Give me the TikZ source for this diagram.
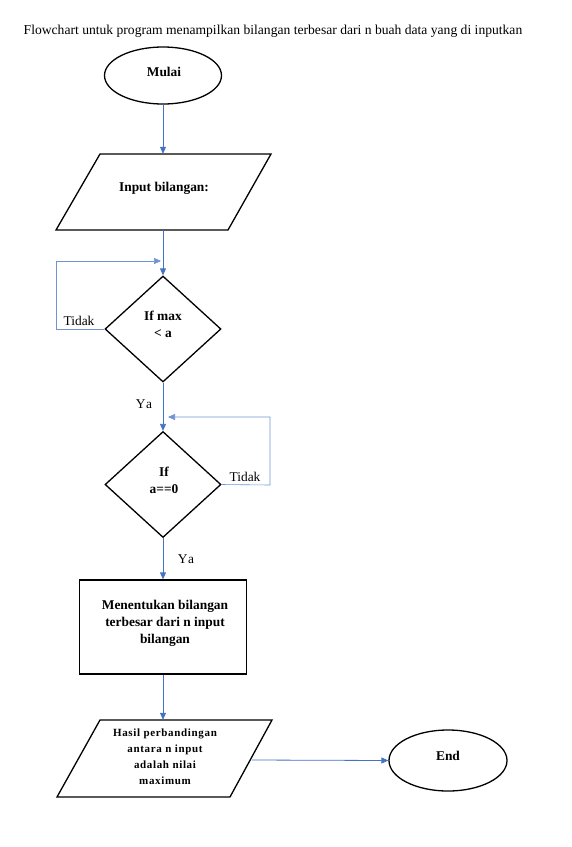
\documentclass[tikz,border=0pt]{standalone}
\usepackage{fontspec}
\setmainfont{Liberation Serif}
\usetikzlibrary{shapes.geometric,arrows.meta}
\definecolor{flowblue}{HTML}{4472C4}
\definecolor{loopblue}{HTML}{6F93D3}
\begin{document}
\begin{tikzpicture}[x=1pt,y=-1pt,
  shapeline/.style={draw=black,line width=1.3pt},
  term/.style={shapeline,ellipse,inner sep=0pt,minimum width=117pt,minimum height=57pt},
  iobox/.style={rectangle,inner sep=0pt,minimum width=172pt,minimum height=76pt},
  decide/.style={shapeline,diamond,inner sep=0pt,minimum width=116pt,minimum height=106pt},
  proc/.style={shapeline,rectangle,inner sep=0pt,minimum width=167pt,minimum height=94pt},
  txt/.style={align=center,font=\fontsize{13.4}{17}\selectfont\bfseries,inner sep=0pt},
  lbl/.style={font=\fontsize{13.4}{15}\selectfont,inner sep=0pt},
  flow/.style={draw=flowblue,line width=0.8pt,-{Triangle[width=6pt,length=7pt]}},
  loop/.style={draw=loopblue,line width=0.6pt,-{Triangle[width=6pt,length=7pt]}}
]
\useasboundingbox (0,0) rectangle (572,847);
\node[font=\fontsize{13.6}{15}\selectfont,inner sep=0pt] (title) at (273,31) {Flowchart untuk program menampilkan bilangan terbesar dari n buah data yang di inputkan};

\node[term] (start) at (163,75.5) {};
\node[txt] (tstart) at (164,72) {Mulai};

\node[iobox] (input) at (163,192) {};
\draw[shapeline,line join=miter] (100,154) -- (271,154) -- (228,230) -- (56,230) -- cycle;
\node[txt] (tinput) at (164,188) {Input bilangan:};

\node[decide] (d1) at (163,329) {};
\node[txt] (td1) at (163,324.5) {If max\\{<} a};

\node[decide] (d2) at (163,484.5) {};
\node[txt] (td2) at (164,480.5) {If\\a==0};

\node[proc] (proc) at (163,627) {};
\node[txt] (tproc) at (165,623) {Menentukan bilangan\\terbesar dari n input\\bilangan};

\node[iobox,minimum height=77pt] (out) at (163,758.5) {};
\draw[shapeline,line join=miter] (100,720) -- (272,720) -- (230,797) -- (57,797) -- cycle;
\node[txt,font=\fontsize{11}{16}\selectfont\bfseries\addfontfeatures{LetterSpace=6}] (tout) at (165,757) {Hasil perbandingan\\antara n input\\adalah nilai\\maximum};

\node[term,minimum width=118pt,minimum height=61pt] (end) at (448,760.5) {};
\node[txt] (tend) at (448,756) {End};

\coordinate (l1a) at (56,329);
\coordinate (l1b) at (56,261);
\coordinate (l1c) at (161,261);
\coordinate (l2a) at (270,485);
\coordinate (l2b) at (270,417);
\coordinate (l2c) at (168,417);
\coordinate (outr) at (252,760);

\draw[flow] (start.south) -- (input.north);
\draw[flow] (input.south) -- (d1.north);
\draw[loop] (d1.west) -- (l1a) -- (l1b) -- (l1c);
\draw[flow] (d1.south) -- (d2.north);
\draw[loop] (d2.east) -- (l2a) -- (l2b) -- (l2c);
\draw[flow] (d2.south) -- (proc.north);
\draw[flow] (proc.south) -- (out.north);
\draw[flow] (outr) -- (end.west);

\node[lbl] (tidak1) at (79,321) {Tidak};
\node[lbl,font=\fontsize{13.4}{15}\selectfont\addfontfeatures{LetterSpace=15}] (ya1) at (144,404) {Ya};
\node[lbl] (tidak2) at (245,477) {Tidak};
\node[lbl,font=\fontsize{13.4}{15}\selectfont\addfontfeatures{LetterSpace=15}] (ya2) at (186,559) {Ya};
\end{tikzpicture}
\end{document}
